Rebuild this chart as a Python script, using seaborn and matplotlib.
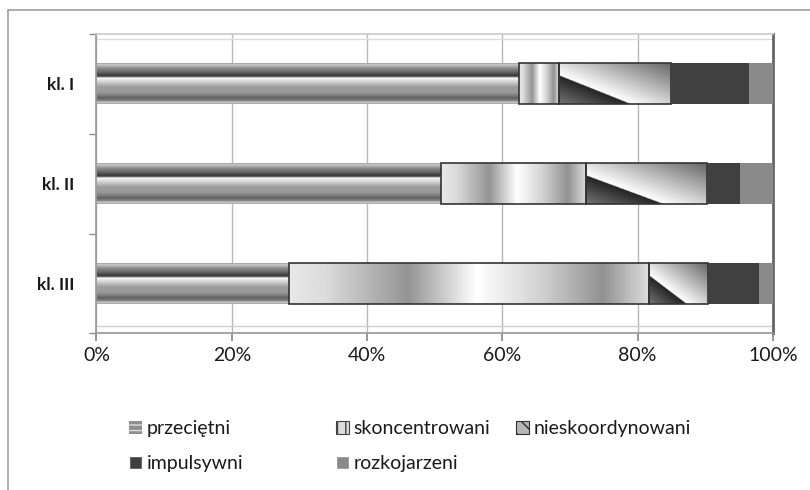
import numpy as np
import pandas as pd
import matplotlib
matplotlib.use('Agg')
import matplotlib.pyplot as plt
import seaborn as sns
from matplotlib.patches import Patch, Rectangle

# data (percent of each class)
classes = ['kl. I', 'kl. II', 'kl. III']
groups = ['przeciętni', 'skoncentrowani', 'nieskoordynowani', 'impulsywni', 'rozkojarzeni']
przecietni = [62.5, 50.9, 28.4]
skoncentrowani = [5.9, 21.5, 53.3]
nieskoordynowani = [16.5, 17.8, 8.7]
impulsywni = [11.6, 4.9, 7.6]
rozkojarzeni = [3.5, 4.9, 2.0]
xticks = [0, 20, 40, 60, 80, 100]

df = pd.DataFrame({'klasa': classes,
                   'przeciętni': przecietni,
                   'skoncentrowani': skoncentrowani,
                   'nieskoordynowani': nieskoordynowani,
                   'impulsywni': impulsywni,
                   'rozkojarzeni': rozkojarzeni})

sns.set_theme(style='white')
plt.rcParams['font.family'] = ['Lato', 'DejaVu Sans']
plt.rcParams['hatch.linewidth'] = 1.0
txt = '#1a1a1a'


# grey "excel gradient" textures, row 0 = top of the bar
def texture(kind, nx=240, ny=80):
    U, V = np.meshgrid(np.linspace(0, 1, nx), np.linspace(0, 1, ny))
    if kind == 'rows':
        pos = [0, 0.03, 0.12, 0.22, 0.30, 0.33, 0.36, 0.42, 0.58, 0.72, 0.86, 0.93, 0.97, 1.0]
        val = [0.62, 0.80, 0.55, 0.40, 0.22, 0.35, 0.98, 0.88, 0.62, 0.60, 0.38, 0.55, 0.85, 0.62]
        return np.interp(V, pos, val)
    if kind == 'cols':
        pos = [0, 0.1, 0.33, 0.52, 0.7, 0.87, 1.0]
        val = [0.91, 0.86, 0.58, 1.0, 0.82, 0.57, 0.87]
        return np.interp(U, pos, val)
    # diagonal: sharp edge, light above-right, dark below-left
    f = V - 1.1 * U - 0.3
    light = 1.0 + 0.6 * f / 1.4
    dark = 0.14 + 0.32 * f / 0.7
    return np.where(f < 0, light, dark)


styles = {'przeciętni': ('rows', '#9a9a9a', 'none'),
          'skoncentrowani': ('cols', '#bbbbbb', '#333333'),
          'nieskoordynowani': ('diag', '#999999', '#333333'),
          'impulsywni': (None, '#404040', 'none'),
          'rozkojarzeni': (None, '#8a8a8a', 'none')}

fig = plt.figure(figsize=(8.1, 4.9), dpi=100)
ax = fig.add_axes([0.1191, 0.3196, 0.8352, 0.611])

left = np.zeros(len(classes))
for g in groups:
    kind, col, edge = styles[g]
    n0 = len(ax.patches)
    sns.barplot(data=df, x=g, y='klasa', orient='h', color=col, saturation=1,
                width=0.41, errorbar=None, ax=ax)
    bars = ax.patches[n0:]
    for b, l in zip(bars, left):
        b.set_x(l)
        b.set_edgecolor(edge)
        b.set_linewidth(1.2)
        b.set_zorder(3)
        if kind is not None:
            x0, w, y0, h = b.get_x(), b.get_width(), b.get_y(), b.get_height()
            ax.imshow(texture(kind), cmap='gray', vmin=0, vmax=1, aspect='auto',
                      extent=(x0, x0 + w, y0 + h, y0), origin='upper',
                      interpolation='bilinear', zorder=2.5)
            b.set_facecolor('none')
    left += df[g].values

ax.set_xlim(0, 100)
ax.set_ylim(2.5, -0.5)
ax.set_xlabel('')
ax.set_ylabel('')

# walls / grid
ax.set_axisbelow(True)
ax.set_xticks(xticks)
ax.set_xticklabels([f'{t}%' for t in xticks], color=txt)
ax.xaxis.grid(True, color='#b8b8b8', lw=1)
ax.tick_params(axis='x', bottom=True, length=6, color='#8a8a8a', pad=4, labelsize=14)
ax.set_yticks(range(len(classes)))
ax.set_yticklabels(classes, fontweight='bold', color=txt)
ax.set_yticks([-0.5, 0.5, 1.5, 2.5], minor=True)
ax.tick_params(axis='y', which='major', length=0, pad=16, labelsize=12.5)
ax.tick_params(axis='y', which='minor', left=True, length=5, color='#8a8a8a')
for s in ['left', 'bottom']:
    ax.spines[s].set_color('#9a9a9a')
ax.spines['top'].set_color('#cccccc')
ax.spines['right'].set_color('#666666')
ax.spines['right'].set_linewidth(2)
ax.axhline(2.43, color='#cfcfcf', lw=1, zorder=1)
ax.axhline(-0.45, color='#dddddd', lw=1, zorder=1)

# legend, three fixed-width columns like excel
handles = {
    'przeciętni': Patch(facecolor='#8f8f8f', edgecolor='#dddddd', hatch='---', lw=0),
    'skoncentrowani': Patch(facecolor='#dcdcdc', edgecolor='#444444', hatch='||', lw=0.8),
    'nieskoordynowani': Patch(facecolor='#b5b5b5', edgecolor='#303030', hatch='\\\\', lw=0.8),
    'impulsywni': Patch(facecolor='#404040'),
    'rozkojarzeni': Patch(facecolor='#8a8a8a'),
}
columns = [['przeciętni', 'impulsywni'], ['skoncentrowani', 'rozkojarzeni'], ['nieskoordynowani']]
col_x = [129, 336, 516]
for names, cx in zip(columns, col_x):
    leg = fig.legend([handles[n] for n in names], names, loc='upper left',
                     bbox_to_anchor=(cx / 810, 1 - 420 / 490), frameon=False,
                     fontsize=14, handlelength=0.65, handleheight=0.65,
                     handletextpad=0.25, labelspacing=0.95, borderpad=0,
                     borderaxespad=0, labelcolor=txt)

# outer chart border
fig.patches.append(Rectangle((8 / 810, -0.05), 1.0, 1.05 - 10 / 490,
                             transform=fig.transFigure, fill=False,
                             edgecolor='#a0a0a0', lw=1.2))

fig.savefig('out.png', dpi=100)
